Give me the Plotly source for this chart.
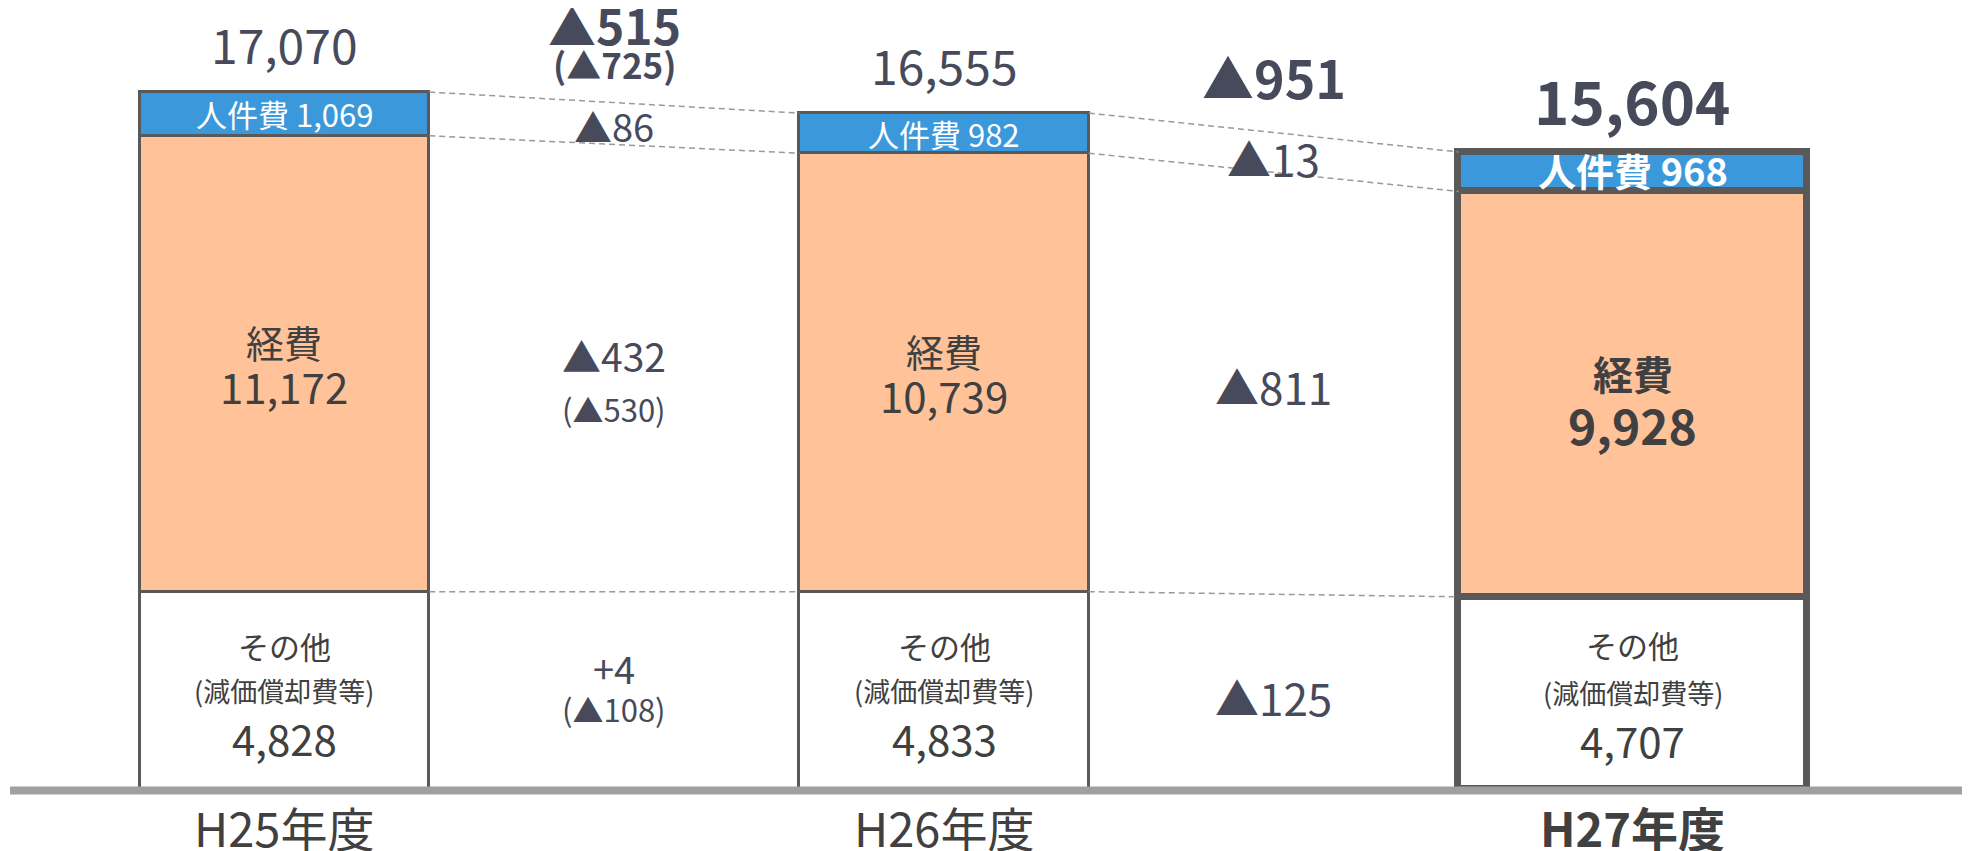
import plotly.graph_objects as go

# ---------------- data ----------------
categories = ["H25年度", "H26年度", "H27年度"]
others = [4828, 4833, 4707]          # その他（減価償却費等）
expenses = [11172, 10739, 9928]      # 経費
personnel = [1069, 982, 968]         # 人件費
totals = [17070, 16555, 15604]

delta_total = ["▲515", "▲951"]
delta_total_sub = ["(▲725)", ""]
delta_personnel = ["▲86", "▲13"]
delta_expenses = ["▲432", "▲811"]
delta_expenses_sub = ["(▲530)", ""]
delta_others = ["+4", "▲125"]
delta_others_sub = ["(▲108)", ""]

label_personnel = "人件費"
label_expenses = "経費"
label_others = "その他"
label_others_sub = "(減価償却費等)"

# ---------------- layout constants ----------------
PAGE_OFF = 8                      # default body margin of the html page
W, H = 1970 - PAGE_OFF, 851 - PAGE_OFF
PLOT_TOP_PG, PLOT_BOT_PG = PAGE_OFF, 800     # plot area, page pixels
ML = 10 - PAGE_OFF
MR = 0
MT = PLOT_TOP_PG - PAGE_OFF
PLOT_H = PLOT_BOT_PG - PLOT_TOP_PG
X_RANGE = [-0.4162, 2.5557]
Y_ZERO_PX = 789
PX_PER_UNIT = 0.04083
Y_RANGE = [-(PLOT_BOT_PG - Y_ZERO_PX) / PX_PER_UNIT, (Y_ZERO_PX - PLOT_TOP_PG) / PX_PER_UNIT]

FONT = "Noto Sans CJK JP"
SLATE = "#474A5A"
DARK = "#404040"
BLUE = "#3A98DB"
PEACH = "#FFC299"
BORDER = "#595959"

bar_width = [0.439, 0.439, 0.528]
bar_offset = [-0.2195, -0.2195, -0.22]
line_w = [3, 3, 7]
xs = list(range(len(categories)))
centers = [x + o + w / 2 for x, o, w in zip(xs, bar_offset, bar_width)]


def ypx(p):
    """page pixel row -> data value"""
    return (Y_ZERO_PX - p) / PX_PER_UNIT


def ypaper(p):
    return (PLOT_BOT_PG - p) / PLOT_H


fig = go.Figure()
for vals, color in [(others, "white"), (expenses, PEACH), (personnel, BLUE)]:
    fig.add_trace(go.Bar(
        x=xs, y=vals, width=bar_width, offset=bar_offset,
        marker=dict(color=color, line=dict(color=BORDER, width=line_w)),
        hoverinfo="skip", showlegend=False,
    ))

# connectors between stack boundaries
b1 = others
b2 = [o + e for o, e in zip(others, expenses)]
b3 = [o + e + p for o, e, p in zip(others, expenses, personnel)]
for b in (b1, b2, b3):
    for i in range(len(xs) - 1):
        xa = xs[i] + bar_offset[i] + bar_width[i]
        xb = xs[i + 1] + bar_offset[i + 1]
        fig.add_trace(go.Scatter(
            x=[xa, xb], y=[b[i], b[i + 1]], mode="lines",
            line=dict(color="#9A9A9A", width=1.5, dash="6px,4px"),
            hoverinfo="skip", showlegend=False,
        ))

ann = []


def add(x, y, text, size, color, bold=False, yshift=0, yref="y"):
    if bold:
        text = "<b>" + text + "</b>"
    ann.append(dict(x=x, y=y, xref="x", yref=yref, text=text, showarrow=False,
                    font=dict(family=FONT, size=size, color=color),
                    xanchor="center", yanchor="middle", yshift=yshift))


for i in range(len(xs)):
    last = i == len(xs) - 1
    c = centers[i]
    # totals
    add(c, b3[i], f"{totals[i]:,}", 60 if last else 48, SLATE, bold=last,
        yshift=53 if last else 49)
    # personnel
    add(c, b2[i] + personnel[i] / 2, f"{label_personnel} {personnel[i]:,}",
        38 if last else 31, "white", bold=last, yshift=2 if last else 0)
    # expenses
    mid = others[i] + expenses[i] / 2
    if last:
        add(c, mid, label_expenses, 40, DARK, bold=True, yshift=21)
        add(c, mid, f"{expenses[i]:,}", 48, DARK, bold=True, yshift=-30)
    else:
        add(c, mid, label_expenses, 38, DARK, yshift=22)
        add(c, mid, f"{expenses[i]:,}", 42, DARK, yshift=-22)
    # others
    mid = others[i] / 2
    s = 48 if last else 45
    add(c, mid, label_others, 31, DARK, yshift=s)
    add(c, mid, label_others_sub, 27, DARK, yshift=0)
    add(c, mid, f"{others[i]:,}", 42, DARK, yshift=-47)
    # category label
    add(c, ypaper(826), categories[i], 47, DARK, bold=last, yref="paper")

# deltas between bars
gap_x = [(xs[i] + bar_offset[i] + bar_width[i] + xs[i + 1] + bar_offset[i + 1]) / 2
         for i in range(len(xs) - 1)]
tot_main_px = [24, 76]
tot_main_size = [48, 52]
tot_sub_px = [63, None]
pers_px = [125, 158]
pers_size = [38, 44]
exp_px = [355, 386]
exp_size = [39, 44]
exp_sub_px = [408, None]
oth_px = [667, 697]
oth_size = [38, 44]
oth_sub_px = [708, None]
for i, gx in enumerate(gap_x):
    add(gx, ypx(tot_main_px[i]), delta_total[i], tot_main_size[i], SLATE, bold=True)
    if delta_total_sub[i]:
        add(gx, ypx(tot_sub_px[i]), delta_total_sub[i], 35, SLATE, bold=True)
    add(gx, ypx(pers_px[i]), delta_personnel[i], pers_size[i], SLATE)
    add(gx, ypx(exp_px[i]), delta_expenses[i], exp_size[i], SLATE)
    if delta_expenses_sub[i]:
        add(gx, ypx(exp_sub_px[i]), delta_expenses_sub[i], 31, SLATE)
    add(gx, ypx(oth_px[i]), delta_others[i], oth_size[i], SLATE)
    if delta_others_sub[i]:
        add(gx, ypx(oth_sub_px[i]), delta_others_sub[i], 31, SLATE)

fig.update_layout(
    width=W, height=H,
    margin=dict(l=ML, r=MR, t=MT, b=H - MT - PLOT_H, pad=0),
    barmode="stack", bargap=0,
    paper_bgcolor="white", plot_bgcolor="white",
    xaxis=dict(range=X_RANGE, visible=False, fixedrange=True),
    yaxis=dict(range=Y_RANGE, visible=False, fixedrange=True),
    shapes=[dict(type="line", xref="paper", yref="y", x0=0, x1=1,
                 y0=ypx(790.5), y1=ypx(790.5),
                 line=dict(color="#A0A0A0", width=8), layer="above")],
    annotations=ann,
    font=dict(family=FONT),
)

fig.write_html("out.html")
